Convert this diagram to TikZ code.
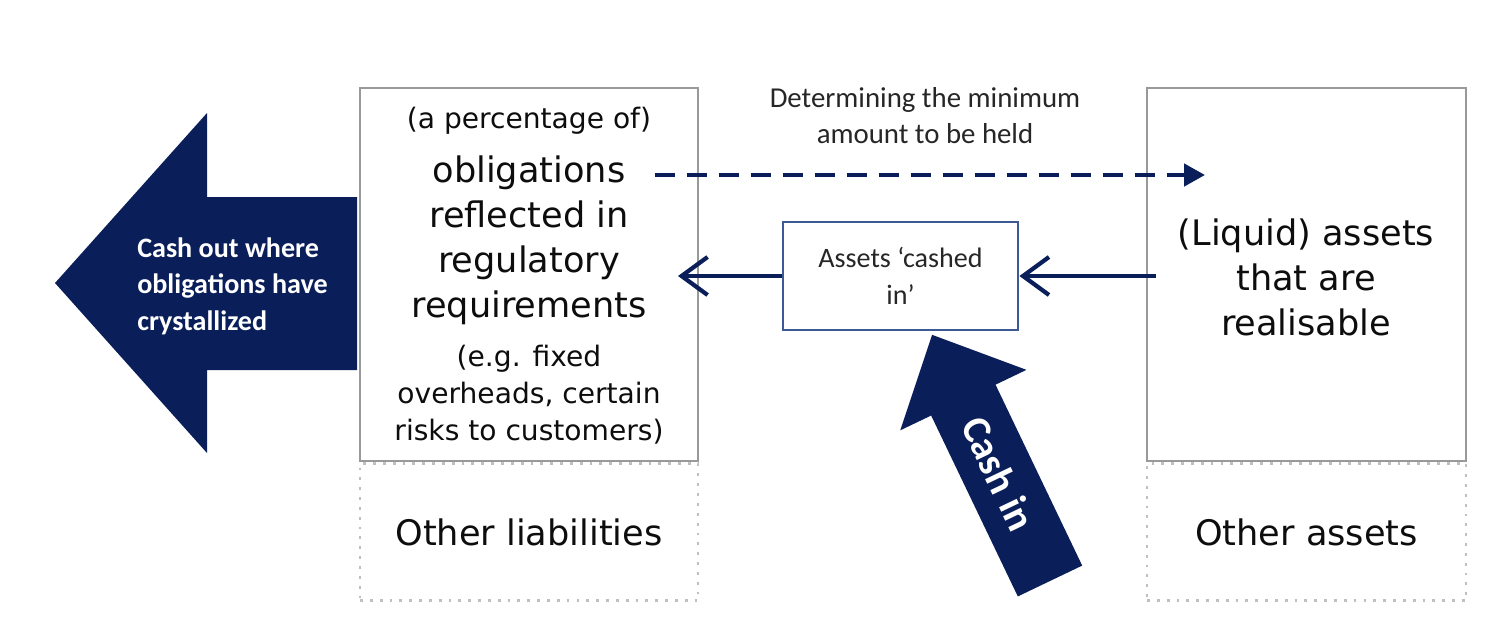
\documentclass[tikz,border=0pt]{standalone}
\usepackage{fontspec}
\setmainfont{DejaVu Sans}
\newfontfamily\calib{Carlito}
\usetikzlibrary{arrows.meta,positioning}
\definecolor{navy}{RGB}{10,30,90}
\definecolor{boxblue}{RGB}{60,90,150}
\tikzset{sheet/.style={draw=black!40,line width=0.8pt,minimum width=3.38cm,minimum height=3.73cm,inner sep=0pt}}
\tikzset{restbox/.style={draw=black!25,dotted,line width=0.8pt,minimum width=3.38cm,minimum height=1.37cm,inner sep=0pt}}
\tikzset{bigtxt/.style={font=\fontsize{10}{12.8}\selectfont,align=center,text=black!95}}
\tikzset{smalltxt/.style={font=\fontsize{8}{10.5}\selectfont,align=center,text=black!95}}
\tikzset{calibtxt/.style={font=\calib\fontsize{8.2}{10.2}\selectfont,align=center,text=black!85}}
\tikzset{flow/.style={navy,line width=1.2pt,-{Straight Barb[length=2.6mm,width=3.8mm]}}}
\tikzset{bigarrow/.style={fill=navy}}

\begin{document}
\begin{tikzpicture}
	\useasboundingbox (0,0) rectangle (14.99,6.17);

	% balance sheet boxes
	\node[sheet] (liab) at (5.29,3.425) {};
	\node[restbox,below=0pt of liab] (liabrest) {};
	\node[sheet,minimum width=3.19cm] (assets) at (13.065,3.425) {};
	\node[restbox,minimum width=3.19cm,below=0pt of assets] (assetsrest) {};

	\node[smalltxt] (pct) at (5.29,4.96) {(a percentage of)};
	\node[bigtxt] (oblig) at (5.29,3.77) {obligations\\reflected in\\regulatory\\requirements};
	\node[smalltxt] (eg) at (5.29,2.22) {(e.g. fixed\\overheads, certain\\risks to customers)};
	\node[bigtxt] (liquid) at (13.06,3.40) {(Liquid) assets\\that are\\realisable};
	\node[bigtxt] (otherliab) at (liabrest) {Other liabilities};
	\node[bigtxt] (otherassets) at (assetsrest) {Other assets};

	% middle
	\node[draw=boxblue,line width=0.8pt,minimum width=2.35cm,minimum height=1.08cm,calibtxt,font=\calib\fontsize{8}{10.5}\selectfont] (cashed) at (9.005,3.41) {Assets ‘cashed\\in’};
	\node[calibtxt] (determ) at (9.25,5.01) {Determining the minimum\\amount to be held};

	\coordinate (detstart) at (6.55,4.42);
	\coordinate (detend) at (12.05,4.42);
	\coordinate (liabin) at (6.78,3.41);

	\draw[navy,line width=1.3pt,dash pattern=on 2mm off 1.2mm,-{Triangle[length=2.1mm,width=2.2mm]}] (detstart) -- (detend);
	\draw[flow] ([xshift=1mm]assets.west |- cashed) -- (cashed.east);
	\draw[flow] (cashed.west) -- (liabin);

	% cash out
	\fill[bigarrow] (0.55,3.34) -- (2.07,5.04) -- (2.07,4.20) -- (3.57,4.20)
		-- (3.57,2.47) -- (2.07,2.47) -- (2.07,1.64) -- cycle;
	\node[font=\calib\bfseries\fontsize{8}{10.4}\selectfont,align=left,text=white] (cashout) at (2.325,3.31) {Cash out where\\obligations have\\crystallized};

	% cash in
	\begin{scope}[shift={(10.50,0.36)},rotate=25.6]
		\fill[bigarrow] (-0.357,0) -- (0.357,0) -- (0.357,2.006) -- (0.70,2.006)
			-- (0,2.73) -- (-0.70,2.006) -- (-0.357,2.006) -- cycle;
		\node[font=\calib\bfseries\fontsize{11.5}{12}\selectfont,text=white,rotate=-64.4] (cashin) at (0,1.19) {Cash in};
	\end{scope}
\end{tikzpicture}
\end{document}
